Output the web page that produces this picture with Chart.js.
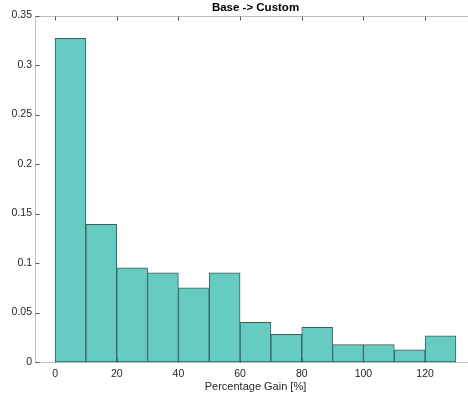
<!DOCTYPE html>
<html>
<head>
<meta charset="utf-8">
<script src="https://cdn.jsdelivr.net/npm/chart.js@4"></script>
<style>
    html, body { margin: 0; padding: 0; background: #fff; overflow: hidden; }
    #wrap { width: 480px; height: 398px; }
</style>
</head>
<body>
<div id="wrap"><canvas id="chart" width="480" height="398"></canvas></div>
<script>
// Histogram data (bin centres, width 10)
const binCenters = [5, 15, 25, 35, 45, 55, 65, 75, 85, 95, 105, 115, 125];
const binValues = [0.327, 0.139, 0.095, 0.090, 0.075, 0.090, 0.040, 0.028, 0.035, 0.0175, 0.0175, 0.0123, 0.0265];
const xTicks = [0, 20, 40, 60, 80, 100, 120];
const yTicks = [0, 0.05, 0.1, 0.15, 0.2, 0.25, 0.3, 0.35];

const FONT = "'Liberation Sans', Arial, Helvetica, sans-serif";

// Axis box + inward ticks (MATLAB style)
const axesBox = {
    id: 'axesBox',
    afterDraw(chart) {
        const ctx = chart.ctx;
        const a = chart.chartArea;
        const xs = chart.scales.x;
        const ys = chart.scales.y;
        const bottom = Math.round(a.bottom) + 0.5;
        const top = Math.round(a.top) + 0.5;
        const left = Math.round(a.left) + 0.5;
        ctx.save();
        ctx.lineWidth = 1;
        ctx.strokeStyle = '#bdbdbd';
        ctx.beginPath();
        ctx.moveTo(left, top);
        ctx.lineTo(left, bottom);
        ctx.lineTo(a.right, bottom);
        ctx.moveTo(left, top);
        ctx.lineTo(a.right, top);
        ctx.stroke();

        ctx.strokeStyle = '#5a5a5a';
        ctx.beginPath();
        xTicks.forEach(v => {
            const px = Math.round(xs.getPixelForValue(v)) + 0.5;
            ctx.moveTo(px, bottom);
            ctx.lineTo(px, bottom - 4);
            ctx.moveTo(px, top);
            ctx.lineTo(px, top + 4);
        });
        yTicks.forEach(v => {
            const py = Math.round(ys.getPixelForValue(v)) + 0.5;
            ctx.moveTo(left, py);
            ctx.lineTo(left + 4, py);
        });
        ctx.stroke();
        ctx.restore();
    }
};

new Chart(document.getElementById('chart'), {
    type: 'bar',
    data: {
        datasets: [{
            data: binCenters.map((c, i) => ({ x: c, y: binValues[i] })),
            backgroundColor: '#66cbc0',
            borderColor: '#33625e',
            borderWidth: 1,
            borderSkipped: false,
            barPercentage: 1,
            categoryPercentage: 1
        }]
    },
    options: {
        responsive: false,
        animation: false,
        layout: { padding: { left: 0, right: 4, top: 0, bottom: 0 } },
        plugins: {
            legend: { display: false },
            tooltip: { enabled: false },
            title: {
                display: true,
                text: 'Base -> Custom',
                fullSize: false,
                color: '#000',
                font: { family: FONT, size: 11.5, weight: 'bold', lineHeight: 1 },
                padding: { top: 2, bottom: 2 }
            }
        },
        scales: {
            x: {
                type: 'linear',
                min: -6.5,
                max: 136.5,
                offset: false,
                grid: { display: false, drawTicks: false },
                border: { display: false },
                afterBuildTicks: (scale) => { scale.ticks = xTicks.map(v => ({ value: v })); },
                afterFit: (scale) => { scale.height = 36; },
                ticks: {
                    color: '#262626',
                    font: { family: FONT, size: 10.5 },
                    padding: 6,
                    maxRotation: 0
                },
                title: {
                    display: true,
                    text: 'Percentage Gain [%]',
                    color: '#262626',
                    font: { family: FONT, size: 11 },
                    padding: { top: 0, bottom: 4 }
                }
            },
            y: {
                min: 0,
                max: 0.35,
                grid: { display: false, drawTicks: false },
                border: { display: false },
                afterBuildTicks: (scale) => { scale.ticks = yTicks.map(v => ({ value: v })); },
                afterFit: (scale) => { scale.width = 35; },
                ticks: {
                    color: '#262626',
                    font: { family: FONT, size: 10.5 },
                    padding: 3,
                    callback: (v) => String(v)
                }
            }
        }
    },
    plugins: [axesBox]
});
</script>
</body>
</html>
